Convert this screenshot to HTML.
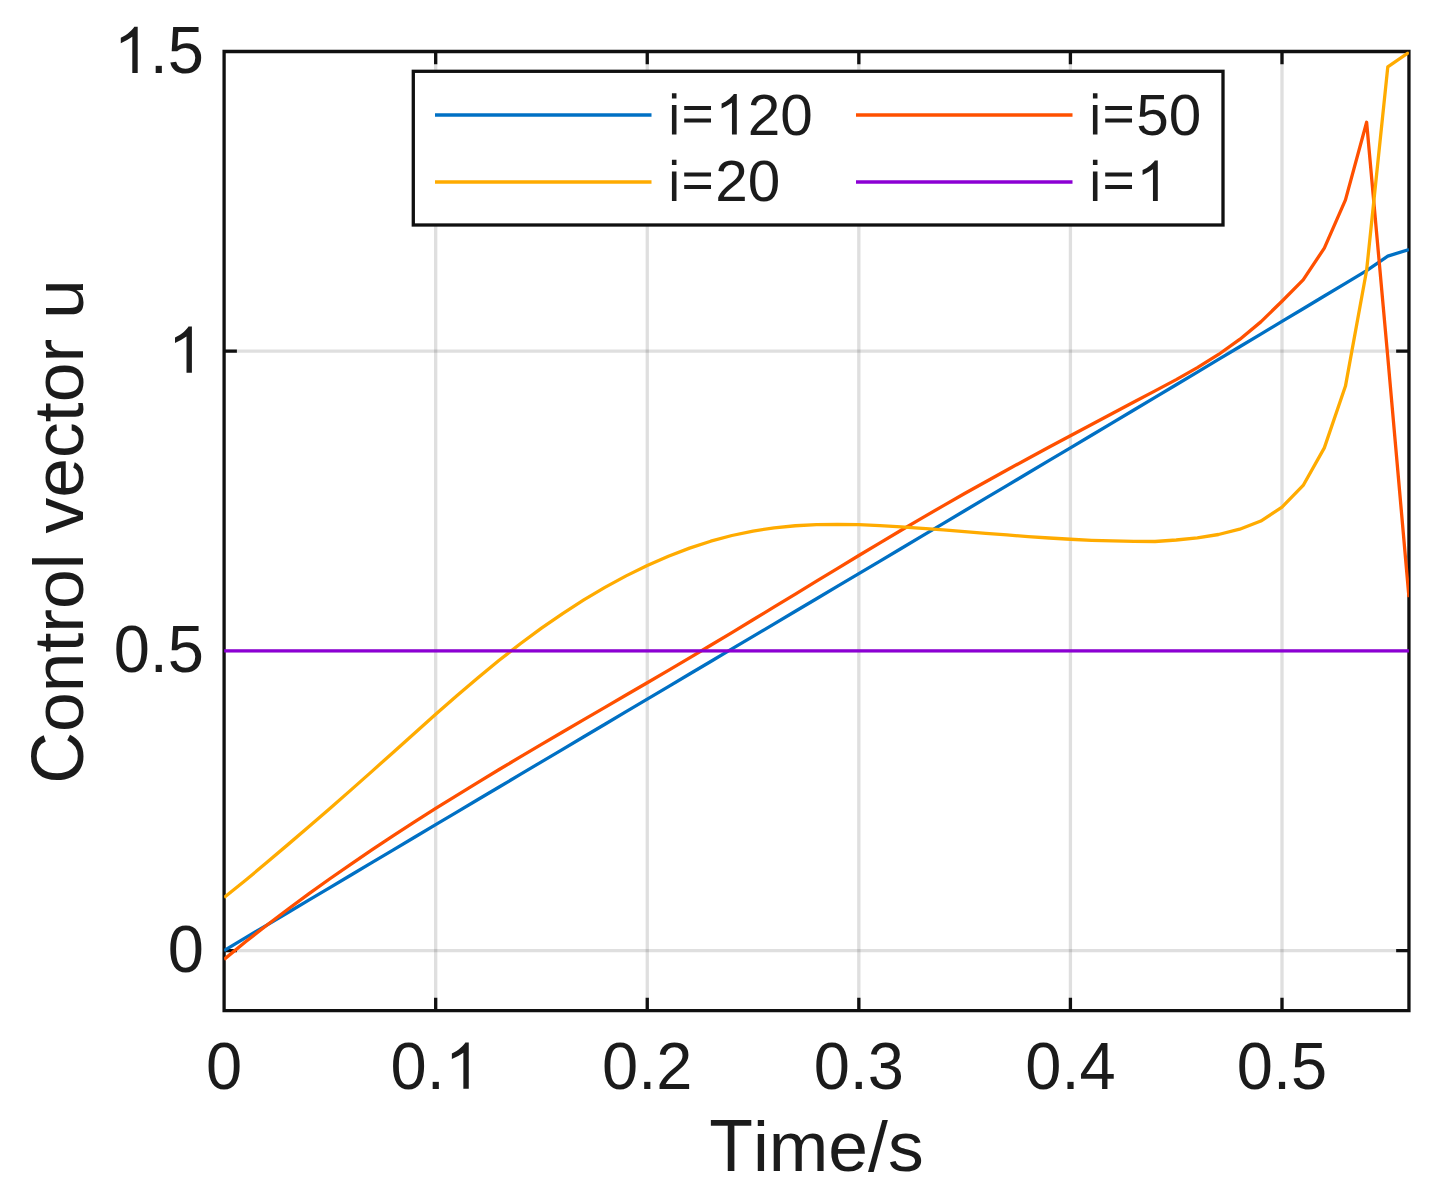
<!DOCTYPE html><html><head><meta charset="utf-8"><style>html,body{margin:0;padding:0;background:#fff;}svg{display:block;}text{font-family:"Liberation Sans",sans-serif;fill:#1b1b1b;font-kerning:none;}</style></head><body><svg width="1437" height="1200" viewBox="0 0 1437 1200"><rect width="1437" height="1200" fill="#fff"/><path d="M435.68 51.50V1010.54M647.26 51.50V1010.54M858.84 51.50V1010.54M1070.42 51.50V1010.54M1282.00 51.50V1010.54" stroke="#262626" stroke-opacity="0.15" stroke-width="3.30" fill="none"/><path d="M224.10 950.60H1408.95M224.10 650.90H1408.95M224.10 351.20H1408.95" stroke="#262626" stroke-opacity="0.15" stroke-width="3.30" fill="none"/><path d="M224.10 51.50H1408.95V1010.54H224.10ZM435.68 1010.54V997.74M435.68 51.50V64.30M647.26 1010.54V997.74M647.26 51.50V64.30M858.84 1010.54V997.74M858.84 51.50V64.30M1070.42 1010.54V997.74M1070.42 51.50V64.30M1282.00 1010.54V997.74M1282.00 51.50V64.30M224.10 950.60H236.90M1408.95 950.60H1396.15M224.10 351.20H236.90M1408.95 351.20H1396.15" stroke="#101010" stroke-width="3.30" fill="none" stroke-linejoin="miter"/><defs><clipPath id="ax"><rect x="224.10" y="51.50" width="1184.85" height="959.04"/></clipPath></defs><g clip-path="url(#ax)"><path d="M224.10,950.55 L245.26,937.94 L266.42,925.33 L287.57,912.73 L308.73,900.14 L329.89,887.55 L351.05,874.96 L372.21,862.38 L393.36,849.81 L414.52,837.24 L435.68,824.67 L456.84,812.10 L478.00,799.54 L499.15,786.99 L520.31,774.43 L541.47,761.88 L562.63,749.32 L583.79,736.77 L604.94,724.23 L626.10,711.68 L647.26,699.13 L668.42,686.58 L689.58,674.04 L710.73,661.49 L731.89,648.94 L753.05,636.39 L774.21,623.84 L795.37,611.29 L816.52,598.74 L837.68,586.18 L858.84,573.62 L880.00,561.06 L901.16,548.50 L922.31,535.93 L943.47,523.36 L964.63,510.78 L985.79,498.20 L1006.95,485.61 L1028.10,473.02 L1049.26,460.43 L1070.42,447.83 L1091.58,435.22 L1112.74,422.60 L1133.89,409.98 L1155.05,397.35 L1176.21,384.72 L1197.37,372.08 L1218.53,359.42 L1239.68,346.76 L1260.84,334.10 L1282.00,321.42 L1303.16,308.73 L1324.32,296.04 L1345.47,283.33 L1366.63,270.61 L1387.79,256.14 L1408.95,249.54" stroke="#0070c4" stroke-width="3.30" fill="none" stroke-linejoin="round" stroke-linecap="butt"/><path d="M224.10,959.41 L245.26,941.99 L266.42,925.47 L287.57,909.45 L308.73,893.89 L329.89,878.76 L351.05,864.03 L372.21,849.66 L393.36,835.64 L414.52,821.92 L435.68,808.48 L456.84,795.29 L478.00,782.32 L499.15,769.53 L520.31,756.90 L541.47,744.40 L562.63,731.99 L583.79,719.65 L604.94,707.34 L626.10,695.04 L647.26,682.71 L668.42,670.32 L689.58,657.85 L710.73,645.27 L731.89,632.56 L753.05,619.77 L774.21,606.92 L795.37,594.04 L816.52,581.16 L837.68,568.31 L858.84,555.52 L880.00,542.83 L901.16,530.25 L922.31,517.83 L943.47,505.59 L964.63,493.55 L985.79,481.70 L1006.95,470.02 L1028.10,458.48 L1049.26,447.05 L1070.42,435.72 L1091.58,424.47 L1112.74,413.26 L1133.89,402.08 L1155.05,390.90 L1176.21,379.60 L1197.37,367.66 L1218.53,354.47 L1239.68,339.41 L1260.84,321.86 L1282.00,301.21 L1303.16,279.87 L1324.32,248.10 L1345.47,199.91 L1366.63,122.23 L1387.79,357.19 L1408.95,597.19" stroke="#ff5000" stroke-width="3.30" fill="none" stroke-linejoin="round" stroke-linecap="butt"/><path d="M224.10,897.49 L245.26,880.53 L266.42,862.80 L287.57,844.88 L308.73,826.76 L329.89,808.43 L351.05,789.88 L372.21,771.11 L393.36,752.15 L414.52,733.16 L435.68,714.30 L456.84,695.76 L478.00,677.70 L499.15,660.31 L520.31,643.76 L541.47,628.16 L562.63,613.54 L583.79,599.93 L604.94,587.37 L626.10,575.88 L647.26,565.49 L668.42,556.23 L689.58,548.13 L710.73,541.21 L731.89,535.51 L753.05,531.05 L774.21,527.84 L795.37,525.74 L816.52,524.62 L837.68,524.32 L858.84,524.68 L880.00,525.56 L901.16,526.81 L922.31,528.28 L943.47,529.88 L964.63,531.57 L985.79,533.28 L1006.95,534.97 L1028.10,536.56 L1049.26,538.02 L1070.42,539.27 L1091.58,540.28 L1112.74,540.97 L1133.89,541.29 L1155.05,541.51 L1176.21,540.01 L1197.37,537.91 L1218.53,534.50 L1239.68,529.22 L1260.84,521.07 L1282.00,507.22 L1303.16,485.47 L1324.32,447.88 L1345.47,386.09 L1366.63,270.28 L1387.79,66.90 L1408.95,52.40" stroke="#ffab00" stroke-width="3.30" fill="none" stroke-linejoin="round" stroke-linecap="butt"/><path d="M224.10,650.90 L245.26,650.90 L266.42,650.90 L287.57,650.90 L308.73,650.90 L329.89,650.90 L351.05,650.90 L372.21,650.90 L393.36,650.90 L414.52,650.90 L435.68,650.90 L456.84,650.90 L478.00,650.90 L499.15,650.90 L520.31,650.90 L541.47,650.90 L562.63,650.90 L583.79,650.90 L604.94,650.90 L626.10,650.90 L647.26,650.90 L668.42,650.90 L689.58,650.90 L710.73,650.90 L731.89,650.90 L753.05,650.90 L774.21,650.90 L795.37,650.90 L816.52,650.90 L837.68,650.90 L858.84,650.90 L880.00,650.90 L901.16,650.90 L922.31,650.90 L943.47,650.90 L964.63,650.90 L985.79,650.90 L1006.95,650.90 L1028.10,650.90 L1049.26,650.90 L1070.42,650.90 L1091.58,650.90 L1112.74,650.90 L1133.89,650.90 L1155.05,650.90 L1176.21,650.90 L1197.37,650.90 L1218.53,650.90 L1239.68,650.90 L1260.84,650.90 L1282.00,650.90 L1303.16,650.90 L1324.32,650.90 L1345.47,650.90 L1366.63,650.90 L1387.79,650.90 L1408.95,650.90" stroke="#8c00d4" stroke-width="3.30" fill="none" stroke-linejoin="round" stroke-linecap="butt"/></g><text transform="translate(206.03 1088.80) scale(1 1.020)" font-size="65.0">0</text><text transform="translate(390.50 1088.80) scale(1 1.020)" font-size="65.0">0.</text><path d="M468.76 1088.80L468.76 1042.52L465.38 1042.52C464.21 1044.92 458.36 1050.77 451.86 1053.50L451.86 1059.03Q458.36 1056.30 463.36 1052.66L463.36 1088.80Z" fill="#1b1b1b"/><text transform="translate(602.08 1088.80) scale(1 1.020)" font-size="65.0">0.2</text><text transform="translate(813.66 1088.80) scale(1 1.020)" font-size="65.0">0.3</text><text transform="translate(1025.24 1088.80) scale(1 1.020)" font-size="65.0">0.4</text><text transform="translate(1236.82 1088.80) scale(1 1.020)" font-size="65.0">0.5</text><text transform="translate(167.85 972.10) scale(1 1.020)" font-size="65.0">0</text><text transform="translate(113.64 672.40) scale(1 1.020)" font-size="65.0">0.5</text><path d="M191.90 372.70L191.90 326.42L188.52 326.42C187.35 328.83 181.50 334.68 175.00 337.41L175.00 342.93Q181.50 340.20 186.51 336.56L186.51 372.70Z" fill="#1b1b1b"/><text transform="translate(149.79 73.00) scale(1 1.020)" font-size="65.0">.5</text><path d="M137.69 73.00L137.69 26.72L134.31 26.72C133.14 29.13 127.29 34.98 120.79 37.71L120.79 43.23Q127.29 40.50 132.30 36.86L132.30 73.00Z" fill="#1b1b1b"/><text transform="translate(709.25 1171) scale(1 1.040)" font-size="71.5">T</text><text transform="translate(752.93 1171) scale(1 0.985)" font-size="71.5">ime/s</text><text transform="translate(82.80 783.74) rotate(-90) scale(1 1.040)" font-size="71.5">C</text><text transform="translate(82.80 732.11) rotate(-90) scale(1 0.985)" font-size="71.5">ontrol vector u</text><rect x="413.30" y="71.30" width="809.70" height="153.70" fill="#fff" stroke="#101010" stroke-width="3.30"/><path d="M435.00 115.00H651.50" stroke="#0070c4" stroke-width="3.30"/><text transform="translate(747.69 134.50) scale(1 0.990)" font-size="58.5">20</text><path d="M671.92 134.50H676.48V105.07H671.92ZM671.92 98.41H676.48V93.37H671.92ZM684.21 122.62H711.01V118.41H684.21ZM684.21 109.93H711.01V105.95H684.21ZM736.80 134.50L736.80 93.89L733.76 93.89C732.71 96.00 727.44 101.13 721.59 103.53L721.59 108.38Q727.44 105.98 731.95 102.79L731.95 134.50Z" fill="#1b1b1b"/><path d="M856.00 115.00H1072.50" stroke="#ff5000" stroke-width="3.30"/><text transform="translate(1136.16 134.50) scale(1 0.990)" font-size="58.5">50</text><path d="M1092.92 134.50H1097.48V105.07H1092.92ZM1092.92 98.41H1097.48V93.37H1092.92ZM1105.21 122.62H1132.01V118.41H1105.21ZM1105.21 109.93H1132.01V105.95H1105.21Z" fill="#1b1b1b"/><path d="M435.00 182.00H651.50" stroke="#ffab00" stroke-width="3.30"/><text transform="translate(715.16 201.00) scale(1 0.990)" font-size="58.5">20</text><path d="M671.92 201.00H676.48V171.57H671.92ZM671.92 164.91H676.48V159.87H671.92ZM684.21 189.12H711.01V184.91H684.21ZM684.21 176.43H711.01V172.45H684.21Z" fill="#1b1b1b"/><path d="M856.00 182.00H1072.50" stroke="#8c00d4" stroke-width="3.30"/><path d="M1092.92 201.00H1097.48V171.57H1092.92ZM1092.92 164.91H1097.48V159.87H1092.92ZM1105.21 189.12H1132.01V184.91H1105.21ZM1105.21 176.43H1132.01V172.45H1105.21ZM1157.80 201.00L1157.80 160.39L1154.76 160.39C1153.71 162.50 1148.44 167.63 1142.59 170.03L1142.59 174.88Q1148.44 172.48 1152.95 169.29L1152.95 201.00Z" fill="#1b1b1b"/></svg></body></html>
